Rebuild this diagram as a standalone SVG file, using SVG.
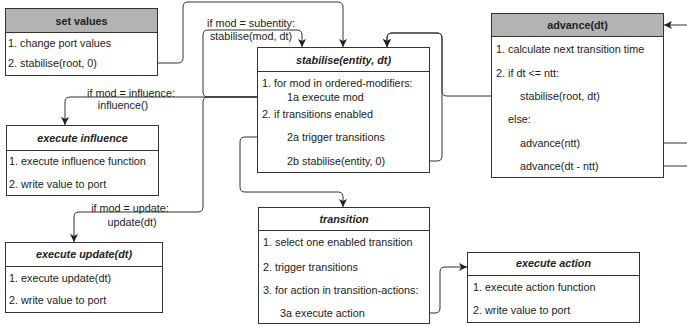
<svg xmlns="http://www.w3.org/2000/svg" width="687" height="327" viewBox="0 0 687 327">
  <style>
    .box { fill: #ffffff; stroke: #333333; stroke-width: 1; }
    .head-grey { fill: #b3b3b3; stroke: #333333; stroke-width: 1; }
    .sep { stroke: #333333; stroke-width: 1; }
    text { font-family: "Liberation Sans", Arial, Helvetica, sans-serif; font-size: 10.8px; fill: #222222; }
    .title { font-weight: bold; text-anchor: middle; }
    .title-it { font-weight: bold; font-style: italic; text-anchor: middle; }
    .lbl { text-anchor: middle; }
    .edge { fill: none; stroke: #333333; stroke-width: 1; }
    .arrow { marker-end: url(#arrowhead); }
  </style>
  <defs>
    <marker id="arrowhead" markerUnits="userSpaceOnUse" markerWidth="9" markerHeight="9" refX="8" refY="4" orient="auto">
      <path d="M0,0 L8,4 L0,8 L2,4 Z" fill="#222222"/>
    </marker>
  </defs>
  <rect width="687" height="327" fill="#ffffff"/>

  <!-- connectors -->
  <g id="connectors">
    <path class="edge arrow" d="M108 63 H178 Q183 63 183 58 V7 Q183 2 188 2 H338 Q343 2 343 7 V47"/>
    <path class="edge arrow" d="M283 97 H208 Q203 97 203 92 V35 Q203 30 208 30 H297 Q302 30 302 35 V47"/>
    <path class="edge arrow" d="M283 97 H70 Q65 97 65 102 V125"/>
    <path class="edge arrow" d="M283 97 H208 Q203 97 203 102 V207 Q203 212 198 212 H79 Q74 212 74 217 V242"/>
    <path class="edge arrow" d="M257 137 H245 Q240 137 240 142 V187 Q240 192 245 192 H338 Q343 192 343 197 V207"/>
    <path class="edge arrow" d="M393 161 H437 Q442 161 442 156 V38 Q442 33 437 33 H392 Q387 33 387 38 V47"/>
    <path class="edge arrow" d="M512 96 H447 Q442 96 442 91 V38 Q442 33 437 33 H392 Q387 33 387 38 V47"/>
    <path class="edge" d="M587 143 H687"/>
    <path class="edge" d="M618 166 H687"/>
    <path class="edge arrow" d="M687 25 H664"/>
    <path class="edge arrow" d="M377 313 H435 Q440 313 440 308 V272 Q440 267 445 267 H467"/>
    <text class="lbl" x="251" y="27">if mod = subentity:</text>
    <text class="lbl" x="251" y="40">stabilise(mod, dt)</text>
    <text class="lbl" x="131" y="96.5">if mod = influence:</text>
    <text class="lbl" x="123" y="109">influence()</text>
    <text class="lbl" x="130" y="211.5">if mod = update:</text>
    <text class="lbl" x="132" y="226">update(dt)</text>
  </g>

  <!-- set values -->
  <g id="set-values">
    <rect class="box" x="5.5" y="8.5" width="152" height="67"/>
    <rect class="head-grey" x="5.5" y="8.5" width="152" height="24"/>
    <text class="title" x="81.5" y="24.5">set values</text>
    <text x="8" y="47">1. change port values</text>
    <text x="8" y="67">2. stabilise(root, 0)</text>
  </g>

  <!-- stabilise(entity, dt) -->
  <g id="stabilise">
    <rect class="box" x="257.5" y="47.5" width="172" height="125"/>
    <line class="sep" x1="257.5" y1="71.5" x2="429.5" y2="71.5"/>
    <text class="title-it" x="343.5" y="64">stabilise(entity, dt)</text>
    <text x="262" y="87">1. for mod in ordered-modifiers:</text>
    <text x="287" y="101">1a execute mod</text>
    <text x="262" y="118">2. if transitions enabled</text>
    <text x="287" y="141">2a trigger transitions</text>
    <text x="287" y="165">2b stabilise(entity, 0)</text>
  </g>

  <!-- advance(dt) -->
  <g id="advance">
    <rect class="box" x="491.5" y="13.5" width="172" height="164"/>
    <rect class="head-grey" x="491.5" y="13.5" width="172" height="23"/>
    <text class="title" x="577.5" y="29">advance(dt)</text>
    <text x="496" y="53">1. calculate next transition time</text>
    <text x="496" y="77">2. if dt &lt;= ntt:</text>
    <text x="520" y="100">stabilise(root, dt)</text>
    <text x="508" y="123">else:</text>
    <text x="520" y="147">advance(ntt)</text>
    <text x="520" y="170">advance(dt - ntt)</text>
  </g>

  <!-- execute influence -->
  <g id="execute-influence">
    <rect class="box" x="6.5" y="125.5" width="152" height="70"/>
    <line class="sep" x1="6.5" y1="150.5" x2="158.5" y2="150.5"/>
    <text class="title-it" x="82.5" y="142">execute influence</text>
    <text x="9" y="165">1. execute influence function</text>
    <text x="9" y="188">2. write value to port</text>
  </g>

  <!-- execute update(dt) -->
  <g id="execute-update">
    <rect class="box" x="5.5" y="242.5" width="157" height="70"/>
    <line class="sep" x1="5.5" y1="266.5" x2="162.5" y2="266.5"/>
    <text class="title-it" x="84" y="258">execute update(dt)</text>
    <text x="9" y="282">1. execute update(dt)</text>
    <text x="9" y="304">2. write value to port</text>
  </g>

  <!-- transition -->
  <g id="transition">
    <rect class="box" x="258.5" y="207.5" width="171" height="116"/>
    <line class="sep" x1="258.5" y1="230.5" x2="429.5" y2="230.5"/>
    <text class="title-it" x="344" y="223">transition</text>
    <text x="263" y="246">1. select one enabled transition</text>
    <text x="263" y="271">2. trigger transitions</text>
    <text x="263" y="294">3. for action in transition-actions:</text>
    <text x="280" y="317">3a execute action</text>
  </g>

  <!-- execute action -->
  <g id="execute-action">
    <rect class="box" x="467.5" y="252.5" width="172" height="70"/>
    <line class="sep" x1="467.5" y1="275.5" x2="639.5" y2="275.5"/>
    <text class="title-it" x="553.5" y="267">execute action</text>
    <text x="473" y="291">1. execute action function</text>
    <text x="473" y="314">2. write value to port</text>
  </g>
</svg>
